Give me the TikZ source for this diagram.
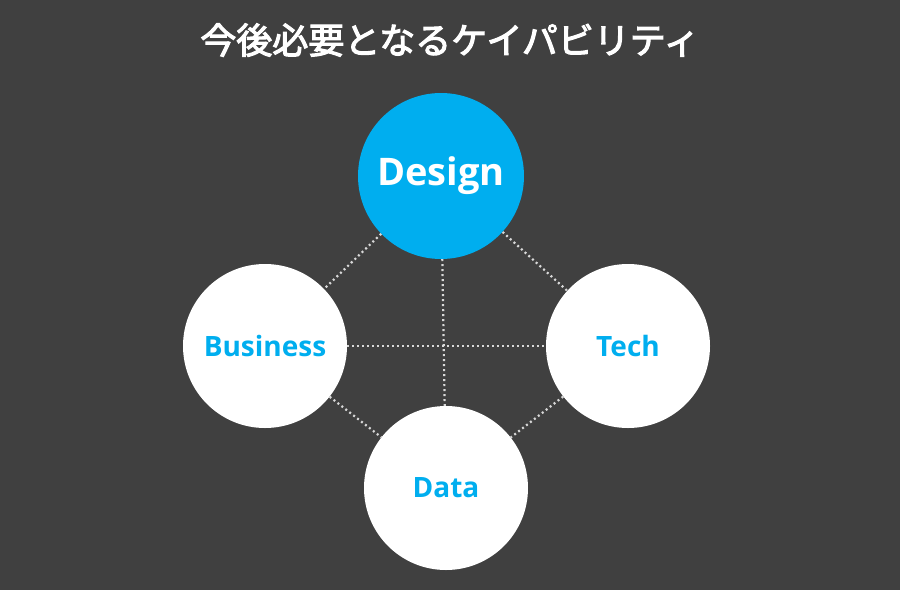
\documentclass[tikz,border=0pt]{standalone}
\usepackage{fontspec}
\setmainfont{Open Sans}
\newfontfamily\jpfont[FakeBold=3]{Noto Sans CJK JP}
\definecolor{bg}{HTML}{404040}
\definecolor{cyanb}{HTML}{00AEEF}
\begin{document}
\begin{tikzpicture}[x=1pt,y=-1pt,
  circ/.style={circle,fill=white,minimum size=164pt,inner sep=0pt,font=\fontsize{28}{30}\selectfont\bfseries,text=cyanb},
  link/.style={draw=white!85!black,line width=2.2pt,dash pattern=on 2pt off 3pt}]
\fill[bg] (0,0) rectangle (900,590);
\useasboundingbox (0,0) rectangle (900,590);
\node[circ] (bus) at (265,346) {Business};
\node[circ] (tech) at (628,346) {Tech};
\node[circ] (data) at (446,488) {Data};
\node[circ,fill=cyanb,text=white,minimum size=166pt,font=\fontsize{38}{40}\selectfont\bfseries] (des) at (441,176) {Design};
\draw[link] (des) -- (bus);
\draw[link] (des) -- (tech);
\draw[link] (bus) -- (data);
\draw[link] (tech) -- (data);
\draw[link] (bus.east) -- (tech.west);
\draw[link] (des) -- (data);
\node[text=white,font=\jpfont\fontsize{36}{40}\selectfont] (title) at (450,40) {今後必要となるケイパビリティ};
\end{tikzpicture}
\end{document}
